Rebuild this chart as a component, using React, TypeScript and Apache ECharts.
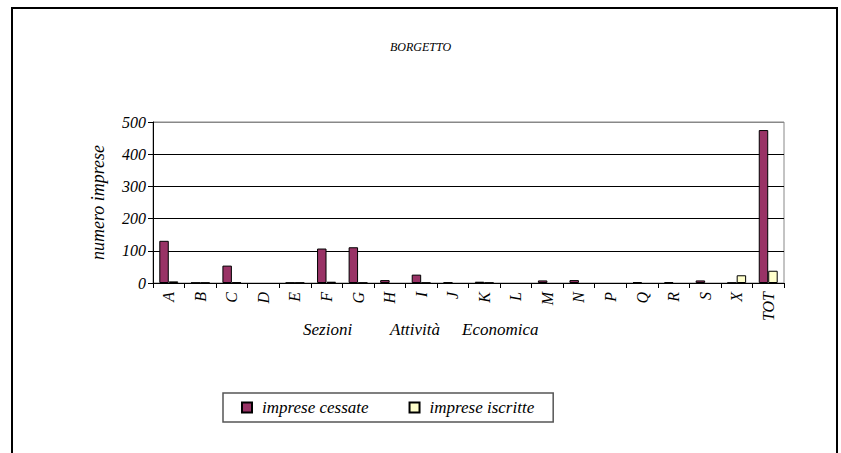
import React, { useEffect, useRef } from "react";
import * as echarts from "echarts";

const categories = ["A", "B", "C", "D", "E", "F", "G", "H", "I", "J", "K", "L", "M", "N", "P", "Q", "R", "S", "X", "TOT"];
const cessate = [131, 1, 54, 0, 1, 107, 111, 9, 26, 2, 4, 0, 8, 9, 0, 3, 3, 8, 1, 475];
const iscritte = [5, 1, 2, 0, 1, 4, 1, 0, 1, 0, 1, 0, 0, 0, 0, 0, 0, 0, 24, 38];
const yTicks = [0, 100, 200, 300, 400, 500];
const seriesNames = ["imprese cessate", "imprese iscritte"];
const titleText = "BORGETTO";
const yAxisName = "numero imprese";
const xAxisWords = ["Sezioni", "Attività", "Economica"];

const FONT = "Liberation Serif";

const toItems = (arr: number[]) =>
  arr.map((v) => (v === 0 ? { value: v, itemStyle: { borderWidth: 0 } } : v));

export default function App() {
  const ref = useRef<HTMLDivElement>(null);
  useEffect(() => {
    if (!ref.current) return;
    const chart = echarts.init(ref.current, undefined, { renderer: "svg" });
    const txt = { fontFamily: FONT, fontStyle: "italic" as const, color: "#000" };
    chart.setOption({
      animation: false,
      backgroundColor: "#fff",
      title: {
        text: titleText,
        left: "center",
        top: 36,
        textStyle: { ...txt, fontSize: 12, fontWeight: "normal" },
      },
      grid: {
        left: 153,
        right: 57,
        top: 122,
        bottom: 170,
        show: true,
        borderColor: "#888",
        borderWidth: 1,
      },
      legend: {
        data: seriesNames,
        left: 223,
        top: 393,
        orient: "horizontal",
        itemWidth: 10,
        itemHeight: 10,
        itemGap: 40,
        icon: "rect",
        padding: [6, 19, 6, 18],
        borderColor: "#555",
        borderWidth: 1.5,
        textStyle: { ...txt, fontSize: 17, padding: [0, 0, 0, 5] },
      },
      xAxis: {
        type: "category",
        data: categories,
        axisLine: { lineStyle: { color: "#000", width: 1 } },
        axisTick: { show: true, length: 5, lineStyle: { color: "#000" } },
        axisLabel: { ...txt, fontSize: 16, rotate: 90, interval: 0, margin: 9 },
        splitLine: { show: false },
      },
      yAxis: {
        type: "value",
        min: yTicks[0],
        max: yTicks[yTicks.length - 1],
        interval: yTicks[1] - yTicks[0],
        name: yAxisName,
        nameLocation: "middle",
        nameRotate: 90,
        nameGap: 46,
        nameTextStyle: { ...txt, fontSize: 18 },
        axisLine: { show: true, lineStyle: { color: "#000", width: 1 } },
        axisTick: { show: true, length: 5, lineStyle: { color: "#000" } },
        axisLabel: { ...txt, fontSize: 16, margin: 7 },
        splitLine: {
          show: true,
          lineStyle: { color: ["#000", "#000", "#000", "#000", "#000", "#888"], width: 1 },
        },
      },
      series: [
        {
          name: seriesNames[0],
          type: "bar",
          data: toItems(cessate),
          barGap: "0%",
          barCategoryGap: "40%",
          itemStyle: { color: "#993366", borderColor: "#000", borderWidth: 1 },
        },
        {
          name: seriesNames[1],
          type: "bar",
          data: toItems(iscritte),
          barGap: "0%",
          barCategoryGap: "40%",
          itemStyle: { color: "#FFFFCC", borderColor: "#000", borderWidth: 1 },
        },
      ],
      graphic: [
        {
          type: "rect",
          shape: { x: 12, y: 8, width: 825, height: 470 },
          style: { fill: "none", stroke: "#000", lineWidth: 2 },
          silent: true,
          z: 100,
        },
        {
          type: "text",
          left: 303,
          top: 321,
          style: { text: xAxisWords[0], fontFamily: FONT, fontStyle: "italic", fontSize: 17, fill: "#000" },
        },
        {
          type: "text",
          left: 390,
          top: 321,
          style: { text: xAxisWords[1], fontFamily: FONT, fontStyle: "italic", fontSize: 17, fill: "#000" },
        },
        {
          type: "text",
          left: 462,
          top: 321,
          style: { text: xAxisWords[2], fontFamily: FONT, fontStyle: "italic", fontSize: 17, fill: "#000" },
        },
      ],
    });
    return () => chart.dispose();
  }, []);
  return (
    <div
      ref={ref}
      style={{ position: "absolute", left: 0, top: 0, width: 841, height: 453 }}
    />
  );
}
